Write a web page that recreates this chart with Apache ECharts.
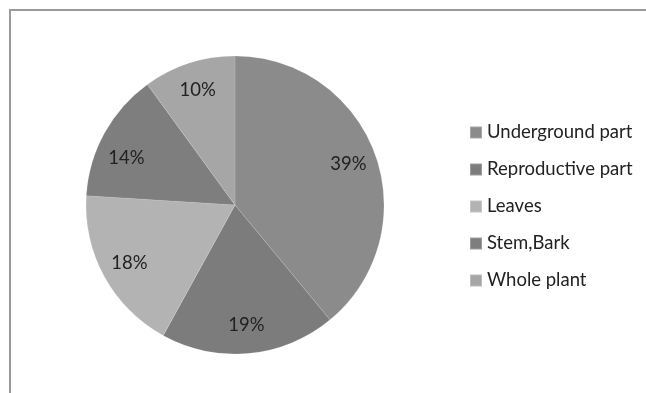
<!DOCTYPE html>
<html>
<head>
<meta charset="utf-8">
<script src="https://cdn.jsdelivr.net/npm/echarts@6/dist/echarts.min.js"></script>
<style>
html, body { margin: 0; padding: 0; background: #fff; }
#main { width: 646px; height: 393px; }
</style>
</head>
<body>
<div id="main"></div>
<script>
var parts = ['Underground part', 'Reproductive part', 'Leaves', 'Stem,Bark', 'Whole plant'];
var shares = [39, 19, 18, 14, 10];
var greys = ['#8b8b8b', '#7c7c7c', '#b3b3b3', '#7e7e7e', '#a6a6a6'];

var chart = echarts.init(document.getElementById('main'));

var pieData = parts.map(function (p, i) {
    return { name: p, value: shares[i], itemStyle: { color: greys[i] } };
});

// label copies; Stem,Bark label sits a bit lower in the original
var labelData = parts.map(function (p, i) {
    var d = { name: p, value: shares[i] };
    if (p === 'Stem,Bark') d.label = { offset: [-3, 11] };
    return d;
});

var option = {
    animation: false,
    backgroundColor: '#fff',
    graphic: [
        { type: 'line', shape: { x1: 9, y1: 10, x2: 646, y2: 10 }, style: { stroke: '#9a9a9a', lineWidth: 2 } },
        { type: 'line', shape: { x1: 10, y1: 9, x2: 10, y2: 393 }, style: { stroke: '#9a9a9a', lineWidth: 2 } }
    ],
    legend: {
        orient: 'vertical',
        left: 464,
        top: 118,
        icon: 'rect',
        itemWidth: 12,
        itemHeight: 12,
        itemGap: 18,
        data: parts,
        textStyle: { fontFamily: 'Lato', fontSize: 18.5, color: '#222', padding: [0, 0, 0, 0] }
    },
    series: [{
        type: 'pie',
        center: [235, 205],
        radius: [0, 149],
        startAngle: 90,
        clockwise: true,
        label: { show: false },
        labelLine: { show: false },
        itemStyle: { borderColor: 'rgba(255,255,255,0.25)', borderWidth: 0.5 },
        emphasis: { disabled: true },
        data: pieData
    }, {
        // transparent copy only used to place the percentage labels further out
        type: 'pie',
        center: [235, 205],
        radius: [86, 149],
        startAngle: 90,
        clockwise: true,
        silent: true,
        itemStyle: { color: 'rgba(0,0,0,0)' },
        label: {
            show: true,
            position: 'inside',
            formatter: '{c}%',
            fontFamily: 'Lato',
            fontSize: 18.5,
            color: '#222'
        },
        labelLine: { show: false },
        emphasis: { disabled: true },
        data: labelData
    }]
};

chart.setOption(option);
</script>
</body>
</html>
